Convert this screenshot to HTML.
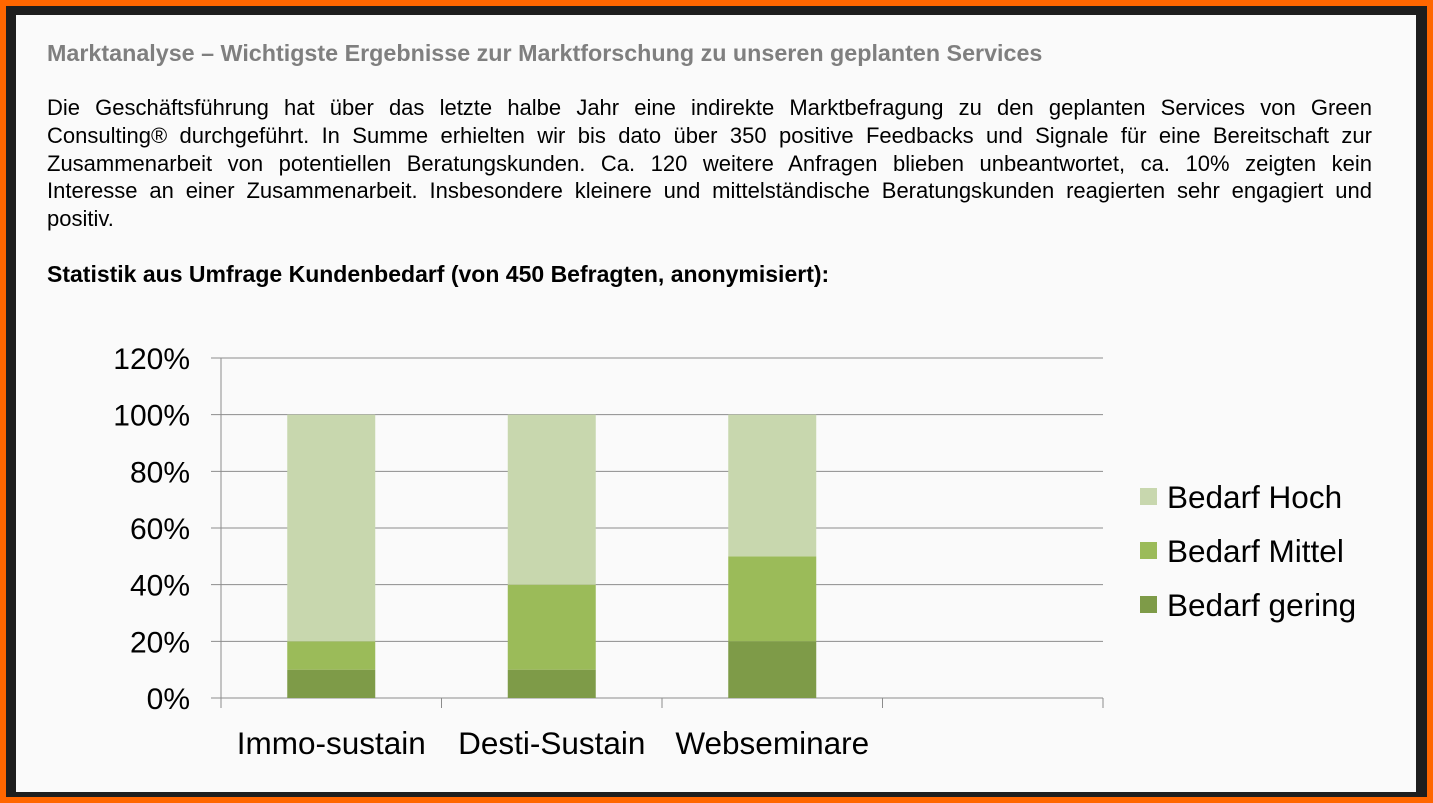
<!DOCTYPE html>
<html><head><meta charset="utf-8"><style>
body{margin:0;width:1433px;height:803px;background:#ff6600;position:relative;overflow:hidden;font-family:"Liberation Sans",Arial,sans-serif}
#frame{position:absolute;left:6px;top:6px;width:1421px;height:791px;background:#1e1e1e}
#page{position:absolute;left:16px;top:15px;width:1400px;height:777px;background:#fafafa}
#title{position:absolute;left:31px;top:25px;font-size:23.3px;font-weight:bold;color:#7f7f7f;white-space:nowrap}
#body{position:absolute;left:31px;top:79px;width:1325px;font-size:22px;line-height:27.8px;color:#000}
#body div{text-align:justify;text-align-last:justify}
#body div.last{text-align-last:left}
#sub{position:absolute;left:31px;top:246px;font-size:23px;font-weight:bold;color:#000;white-space:nowrap}
svg{position:absolute;left:0;top:0}
</style></head><body>
<div id="frame"></div>
<div id="page">
<div id="title">Marktanalyse – Wichtigste Ergebnisse zur Marktforschung zu unseren geplanten Services</div>
<div id="body">
<div>Die Geschäftsführung hat über das letzte halbe Jahr eine indirekte Marktbefragung zu den geplanten Services von Green</div>
<div>Consulting® durchgeführt. In Summe erhielten wir bis dato über 350 positive Feedbacks und Signale für eine Bereitschaft zur</div>
<div>Zusammenarbeit von potentiellen Beratungskunden. Ca. 120 weitere Anfragen blieben unbeantwortet, ca. 10% zeigten kein</div>
<div>Interesse an einer Zusammenarbeit. Insbesondere kleinere und mittelständische Beratungskunden reagierten sehr engagiert und</div>
<div class="last">positiv.</div>
</div>
<div id="sub">Statistik aus Umfrage Kundenbedarf (von 450 Befragten, anonymisiert):</div>
</div>
<svg id="chart" width="1433" height="803"></svg>
<script>
const categories=["Immo-sustain","Desti-Sustain","Webseminare",""];
const gering=[0.10,0.10,0.20,0];
const mittel=[0.10,0.30,0.30,0];
const hoch=[0.80,0.60,0.50,0];
const ticks=[0,0.2,0.4,0.6,0.8,1.0,1.2];
const tickLabels=["0%","20%","40%","60%","80%","100%","120%"];
const seriesNames=["Bedarf Hoch","Bedarf Mittel","Bedarf gering"];
const colors={hoch:"#c8d7ae",mittel:"#9bbb59",gering:"#7e9b48"};
const svg=document.getElementById('chart');const NS="http://www.w3.org/2000/svg";
const x0=221,x1=1103,y0=698,y1=358;
const y=v=>y0-(v/1.2)*(y0-y1);
const slot=(x1-x0)/categories.length;
const cx=i=>x0+slot*(i+0.5);
function mk(t,a,p){const e=document.createElementNS(NS,t);for(const k in a)e.setAttribute(k,a[k]);(p||svg).appendChild(e);return e;}
ticks.forEach((t,i)=>{
 const g=mk('line',{x1:211,x2:x1,y1:y(t),y2:y(t),stroke:'#8c8c8c','stroke-width':1});
 
 
 const l=mk('text',{x:190,y:y(t)+11,'text-anchor':'end','font-size':30,fill:'#000','font-family':'Liberation Sans, sans-serif'});
 l.textContent=tickLabels[i];
 
 
});
const ax=mk('line',{x1:x0,x2:x0,y1:y1,y2:y0,stroke:'#8c8c8c'});


for(let i=0;i<=categories.length;i++){
 const t=mk('line',{x1:x0+slot*i,x2:x0+slot*i,y1:y0,y2:y0+10,stroke:'#8c8c8c'});
 
 
}
const bw=88;
categories.forEach((c,i)=>{
 let base=0;
 [[gering,'gering'],[mittel,'mittel'],[hoch,'hoch']].forEach(([arr,k])=>{
  const v=arr[i];if(v>0){
   const r=mk('rect',{x:cx(i)-bw/2,y:y(base+v),width:bw,height:y(base)-y(base+v),fill:colors[k]});
   
   
  }
  base+=v;
 });
 if(c){
  const l=mk('text',{x:cx(i),y:754,'text-anchor':'middle','font-size':31.5,fill:'#000','font-family':'Liberation Sans, sans-serif'});
  l.textContent=c;
  
  
 }
});
const legCols=[colors.hoch,colors.mittel,colors.gering];
seriesNames.forEach((n,i)=>{
 const yy=497+i*54;
 const s=mk('rect',{x:1140,y:yy-9,width:17,height:17,fill:legCols[i]});
 
 
 const t=mk('text',{x:1167,y:yy+11,'font-size':31.5,fill:'#000','font-family':'Liberation Sans, sans-serif'});
 t.textContent=n;
 
 
});
</script>
</body></html>
